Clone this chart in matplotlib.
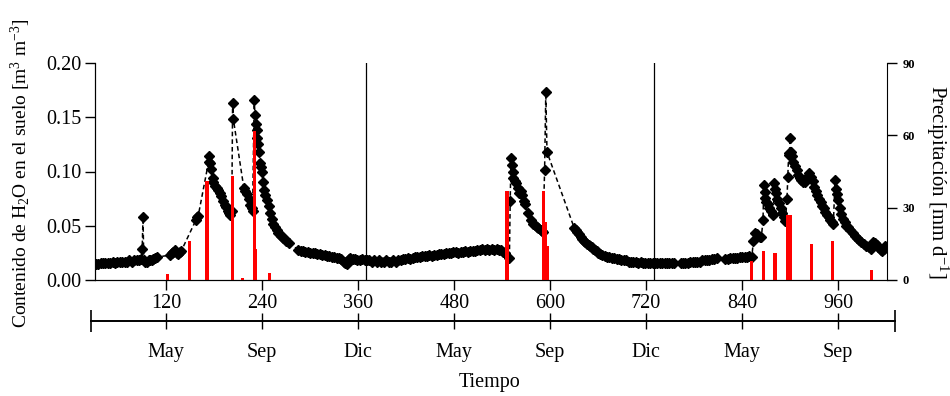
import numpy as np
import matplotlib
matplotlib.use('Agg')
from matplotlib import pyplot as plt

# Contenido de agua en el suelo (dia, valor)
dias = [32, 35, 38, 41, 44, 47, 50, 53, 56, 59, 62, 65, 68, 71, 74, 77, 80, 83, 86, 88,
        90, 91, 92, 94, 96, 98, 100, 102, 104, 106, 108,
        125, 127, 129, 131, 133, 135, 137, 139,
        157, 158, 160,
        173, 174, 175, 176, 178, 179, 181, 183, 185, 187, 189, 191, 193, 195, 197, 199, 200, 202, 203, 204,
        217, 219, 221, 223, 225, 227, 228, 230, 231, 232, 233, 234, 235, 236, 237, 238, 240, 241, 242,
        244, 246, 248, 250, 252, 254, 256, 258, 260, 262, 264, 266, 268, 270, 273,
        285, 288, 291, 294, 297, 300, 303, 306, 309, 312, 315, 318, 321, 324, 327, 330, 333, 336, 339,
        342, 344, 346, 348, 350, 353, 356, 359, 362, 365, 368, 371, 374, 377, 380, 383, 386, 389, 392,
        395, 398, 401, 404, 407, 410, 413, 416, 419, 422, 425, 428, 431, 434, 437, 440, 443, 446, 449,
        452, 455, 458, 461, 464, 467, 470, 473, 476, 479, 482, 485, 488, 491, 494, 497, 500, 503, 506,
        509, 512, 515, 518, 521, 524, 527, 530, 533, 536, 539, 541, 543,
        549, 550, 551, 552, 553, 554, 556, 557, 560, 561, 563, 565, 567, 569, 572, 576, 578, 581, 583,
        585, 588, 590, 591, 593, 594.5, 596,
        630, 632, 634, 636, 638, 640, 642, 644, 646, 648, 650, 652, 654, 656, 658, 660, 662, 665, 668,
        671, 674, 677, 680, 683, 686, 689, 692, 695, 698, 701, 704, 707, 710, 713, 716, 719, 722, 725,
        728, 731, 734, 737, 740, 743, 746, 749, 752, 755,
        763, 766, 769, 772, 775, 778, 781, 784, 787, 790, 793, 796, 799, 802, 805, 808,
        819, 822, 825, 828, 831, 834, 837, 840, 843, 846, 849, 852,
        854, 856, 858, 860, 862, 864, 866, 867, 868, 869, 870, 872, 874, 876, 878, 879, 880, 881, 882,
        884, 886, 888, 890, 892, 894, 896, 897, 898, 899, 900, 901, 902, 904, 906, 908, 910, 912, 914,
        916, 918, 920, 922, 924, 926, 928, 930, 932, 934, 936, 938, 940, 942, 944, 946, 948, 950, 952,
        954, 956, 957, 958, 960, 962, 964, 966, 968, 970, 972, 975, 978, 981, 983, 986, 989, 992, 995,
        998, 1001, 1004, 1006, 1008, 1010, 1013, 1015, 1017, 1019]
humedad = [.015, .015, .016, .016, .016, .016, .016, .017, .016, .017, .017, .017, .017, .017, .018, .017, .018, .018, .018, .019,
           .029, .058, .018, .017, .017, .018, .018, .018, .019, .020, .021,
           .023, .025, .026, .028, .025, .024, .026, .027,
           .055, .058, .059,
           .109, .114, .108, .102, .094, .090, .087, .085, .083, .080, .077, .073, .069, .067, .064, .062, .060, .064, .163, .148,
           .085, .082, .079, .075, .069, .066, .064, .166, .152, .144, .138, .131, .125, .118, .108, .104, .100, .090, .083,
           .078, .074, .068, .062, .056, .052, .049, .046, .043, .042, .041, .039, .038, .036, .034,
           .028, .027, .027, .026, .026, .025, .025, .025, .024, .024, .023, .023, .022, .022, .021, .021, .020, .020, .019,
           .017, .016, .015, .019, .020, .019, .019, .018, .018, .019, .018, .018, .018, .017, .018, .017, .018, .017, .017,
           .018, .017, .017, .018, .017, .018, .018, .019, .019, .020, .019, .020, .021, .021, .021, .022, .022, .022, .023,
           .022, .023, .023, .024, .024, .024, .025, .025, .025, .026, .026, .025, .026, .026, .027, .026, .027, .027, .027,
           .028, .028, .029, .028, .029, .028, .029, .028, .029, .028, .028, .026, .025,
           .020, .073, .112, .106, .100, .094, .091, .089, .085, .080, .082, .078, .073, .070, .062, .055, .052, .051, .049,
           .048, .046, .045, .044, .101, .173, .118,
           .048, .046, .044, .042, .040, .038, .036, .035, .033, .032, .031, .030, .029, .028, .027, .025, .024, .023, .022,
           .021, .021, .020, .020, .019, .019, .018, .018, .018, .017, .017, .017, .017, .016, .017, .016, .016, .016, .016,
           .016, .016, .016, .016, .016, .016, .016, .016, .016, .016,
           .016, .016, .016, .016, .017, .017, .017, .017, .017, .018, .018, .018, .018, .019, .019, .020,
           .019, .019, .020, .020, .020, .020, .021, .021, .021, .021, .022, .021,
           .036, .043, .042, .041, .040, .040, .055, .088, .081, .076, .072, .070, .066, .064, .061, .060, .089, .084, .080,
           .075, .071, .066, .062, .058, .054, .075, .095, .115, .117, .131, .118, .114, .109, .105, .101, .097, .094, .092,
           .090, .090, .092, .096, .099, .095, .091, .086, .082, .078, .075, .072, .068, .066, .063, .060, .058, .055, .053,
           .052, .092, .084, .079, .074, .066, .061, .056, .053, .050, .049, .046, .043, .041, .039, .037, .035, .033, .031,
           .030, .029, .035, .034, .032, .030, .028, .027, .029, .031]

# Precipitacion diaria (mm/d)
dias_lluvia = [122, 149, 171, 203, 215, 230, 232, 249, 546, 592, 594, 597,
               852, 867, 881, 897, 900, 927, 953, 1002]
lluvia = [2.5, 16, 41, 43, 1, 62, 13, 3, 37, 37, 24, 14,
          8, 12, 11, 27, 27, 15, 16, 4]

# limites de anio y eje de meses
cortes_anio = [370, 730]
meses_pos = [120, 240, 360, 480, 600, 720, 840, 960]
meses = ['May', 'Sep', 'Dic', 'May', 'Sep', 'Dic', 'May', 'Sep']
ticks_x = [120, 240, 360, 480, 600, 720, 840, 960]

plt.rcParams['font.family'] = ['Liberation Serif', 'DejaVu Serif']
plt.rcParams['mathtext.fontset'] = 'custom'
plt.rcParams['mathtext.rm'] = 'Liberation Serif'
plt.rcParams['mathtext.default'] = 'regular'


def main():
    fig = plt.figure(figsize=(9.5, 3.96), dpi=100)
    ax = fig.add_axes([95 / 950, 116 / 396, 792 / 950, 217 / 396])

    ax.plot(dias, humedad, color='black', ls=(0, (3, 2)), lw=1.1,
            marker='D', ms=5, mfc='black', mec='black')
    for c in cortes_anio:
        ax.axvline(c, color='black', lw=0.9)

    ax.set_xlim(31, 1021)
    ax.set_ylim(0, 0.20)
    ax.set_xticks(ticks_x)
    ax.set_yticks([0, 0.05, 0.10, 0.15, 0.20])
    ax.set_yticklabels(['0.00', '0.05', '0.10', '0.15', '0.20'])
    ax.tick_params(direction='out', length=7, width=1, labelsize=14.5, pad=3)
    ax.spines['top'].set_visible(False)
    ax.spines['right'].set_visible(False)
    ax.set_ylabel('Contenido de H$_2$O en el suelo [m$^3$ m$^{-3}$]', fontsize=14)
    ax.yaxis.set_label_coords(-0.078, 0.49)

    ax2 = ax.twinx()
    ax2.bar(dias_lluvia, lluvia, width=4, color='#ff0000', align='center')
    ax2.set_ylim(0, 90)
    ax2.set_yticks([0, 30, 60, 90])
    ax2.tick_params(direction='out', length=7, width=1, labelsize=9, pad=4)
    for t in ax2.get_yticklabels():
        t.set_fontweight('bold')
    ax2.spines['top'].set_visible(False)
    ax2.set_ylabel('Precipitación [mm d$^{-1}$]', fontsize=15, rotation=270)
    ax2.yaxis.set_label_coords(1.08, 0.45)

    # eje de meses debajo
    ax3 = fig.add_axes([91 / 950, 0.12, 804 / 950, 0.14])
    ax3.set_xlim(26.25, 1031.25)
    ax3.patch.set_visible(False)
    for s in ['top', 'left', 'right']:
        ax3.spines[s].set_visible(False)
    ax3.spines['bottom'].set_position(('axes', 0.5))
    ax3.spines['bottom'].set_linewidth(1.4)
    ax3.set_yticks([])
    ax3.set_xticks(meses_pos)
    ax3.set_xticklabels(meses)
    ax3.set_xticks([26.25, 1031.25], minor=True)
    ax3.tick_params(axis='x', which='major', direction='inout', length=12, width=1,
                    labelsize=14.5, pad=10)
    ax3.tick_params(axis='x', which='minor', direction='inout', length=16, width=1.2)

    fig.text(490 / 950, 13 / 396, 'Tiempo', ha='center', va='center', fontsize=14.5)

    fig.savefig('out.png', dpi=100)


if __name__ == '__main__':
    main()
